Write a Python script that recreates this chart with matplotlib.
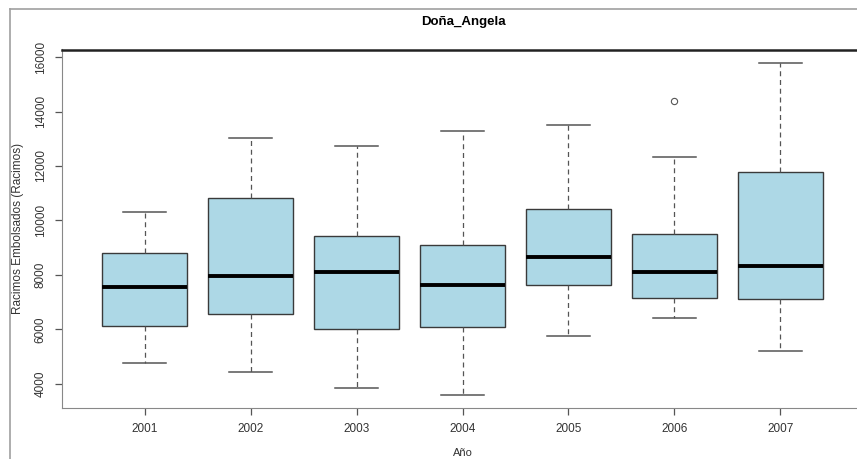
import numpy as np
import matplotlib
matplotlib.use("Agg")
import matplotlib.pyplot as plt
from matplotlib.lines import Line2D

plt.rcParams['font.family'] = ['Liberation Sans', 'DejaVu Sans']

# estadisticos por año (bigote inf, Q1, mediana, Q3, bigote sup)
anios = ['2001', '2002', '2003', '2004', '2005', '2006', '2007']
whislo = [4760, 4440, 3830, 3600, 5750, 6430, 5200]
q1 = [6120, 6560, 6020, 6090, 7620, 7150, 7110]
med = [7570, 7950, 8100, 7640, 8640, 8120, 8310]
q3 = [8820, 10820, 9420, 9110, 10410, 9510, 11790]
whishi = [10310, 13040, 12750, 13300, 13510, 12340, 15790]
atipicos = [[], [], [], [], [], [14400], []]

stats = []
for i in range(len(anios)):
    stats.append(dict(label=anios[i], whislo=whislo[i], q1=q1[i], med=med[i],
                      q3=q3[i], whishi=whishi[i], fliers=atipicos[i]))

W, H = 857, 459
fig = plt.figure(figsize=(W / 100, H / 100), dpi=100)

# marco exterior gris
fig.add_artist(Line2D([10 / W, 10 / W], [0, 1 - 9 / H], color='#a0a0a0', lw=1.2))
fig.add_artist(Line2D([10 / W, 1], [1 - 9 / H, 1 - 9 / H], color='#a0a0a0', lw=1.2))

ax = fig.add_axes([62 / W, 1 - 408 / H, 801 / W, (408 - 49.5) / H])

ax.bxp(stats, positions=np.arange(1, 8), widths=0.8, patch_artist=True,
       boxprops=dict(facecolor='#add8e6', edgecolor='#3a3a3a', linewidth=1.0),
       medianprops=dict(color='black', linewidth=2.8, solid_capstyle='butt'),
       whiskerprops=dict(color='#555555', linewidth=0.9, linestyle=(0, (4, 3))),
       capprops=dict(color='#555555', linewidth=1.1),
       flierprops=dict(marker='o', markersize=4.5, markerfacecolor='none',
                       markeredgecolor='#555555', markeredgewidth=0.8),
       capwidths=0.4)

rango = max(whishi + [14400]) - min(whislo)
ax.set_xlim(0.5 - 0.04 * 7, 7.5 + 0.04 * 7)
ax.set_ylim(min(whislo) - 0.04 * rango, 15790 + 0.04 * rango)

ax.set_yticks([4000, 6000, 8000, 10000, 12000, 14000, 16000])
ax.set_xticks(np.arange(1, 8))
ax.set_xticklabels(anios)
for lbl in ax.get_yticklabels():
    lbl.set_rotation(90)
    lbl.set_va('center')
ax.tick_params(axis='both', colors='#555555', labelcolor='#333333',
               labelsize=8.5, length=5, width=0.9)
ax.tick_params(axis='x', pad=6)
ax.tick_params(axis='y', pad=6)

ax.spines['right'].set_visible(False)
ax.spines['left'].set_color('#888888')
ax.spines['bottom'].set_color('#888888')
ax.spines['top'].set_color('#222222')
ax.spines['top'].set_linewidth(1.8)

ax.set_ylabel('Racimos Embolsados (Racimos)', fontsize=8.5, color='#333333', labelpad=8)
fig.text(463 / W, 1 - 453 / H, 'Año', ha='center', va='center',
         fontsize=8, color='#333333')
fig.text(463 / W, 1 - 22 / H, 'Doña_Angela', ha='center', va='center',
         fontsize=9.5, fontweight='bold')

fig.savefig('out.png', dpi=100)
